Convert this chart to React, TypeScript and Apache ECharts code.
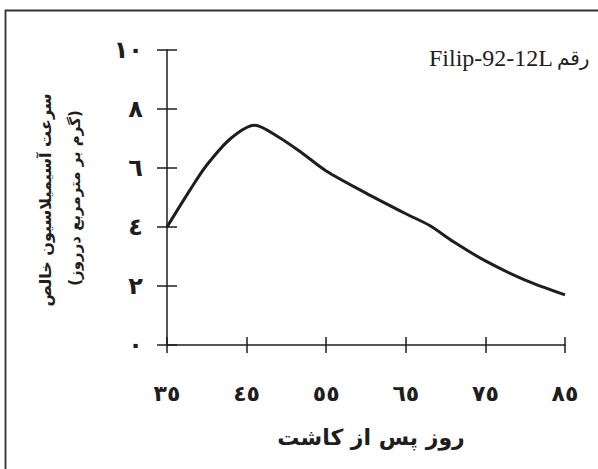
import React, { useEffect, useRef } from "react";
import * as echarts from "echarts";

// Net assimilation rate of cultivar Filip-92-12L over days after planting
const DAY0 = 35;
const days = [35, 38, 40, 43, 46, 49, 52, 55, 60, 65, 68, 71, 75, 80, 85];
const rate = [4.0, 5.3, 6.1, 7.0, 7.45, 7.05, 6.5, 5.9, 5.15, 4.45, 4.05, 3.5, 2.85, 2.2, 1.7];

const xTickLabels = ["٣٥", "٤٥", "٥٥", "٦٥", "٧٥", "٨٥"];
const yTickLabels = ["٠", "٢", "٤", "٦", "٨", "١٠"];

const titleLatin = "Filip-92-12L";
const titleFa = "رقم";
const xTitle = "روز پس از کاشت";
const yTitle1 = "سرعت آسیمیلاسیون خالص";
const yTitle2 = "(گرم بر مترمربع درروز)";

const AR_FONT = "'DejaVu Sans', sans-serif";
const INK = "#1e1e1e";

export default function App() {
  const ref = useRef<HTMLDivElement>(null);

  useEffect(() => {
    if (!ref.current) return;
    const chart = echarts.init(ref.current, undefined, { renderer: "svg" });

    const xSpan = 50;
    const xStep = 10;
    const ySpan = 10;
    const yStep = 2;

    const xBase = {
      type: "value" as const,
      min: 0,
      max: xSpan,
      interval: xStep,
      position: "bottom" as const,
      splitLine: { show: false },
    };
    const yBase = {
      type: "value" as const,
      min: 0,
      max: ySpan,
      interval: yStep,
      position: "left" as const,
      splitLine: { show: false },
    };

    chart.setOption({
      animation: false,
      grid: { left: 167, top: 50, width: 398, height: 295, containLabel: false },
      xAxis: [
        {
          ...xBase,
          axisLine: { show: true, lineStyle: { color: INK, width: 1.5 } },
          axisTick: { show: true, length: 8, lineStyle: { color: INK, width: 1.5 } },
          axisLabel: {
            show: true,
            margin: 37,
            color: INK,
            fontSize: 22,
            fontWeight: "bold",
            fontFamily: AR_FONT,
            formatter: (v: number) => xTickLabels[Math.round(v / xStep)] ?? "",
          },
        },
        {
          ...xBase,
          axisLine: { show: false },
          axisTick: { show: true, inside: true, length: 8, lineStyle: { color: INK, width: 1.5 } },
          axisLabel: { show: false },
        },
      ],
      yAxis: [
        {
          ...yBase,
          axisLine: { show: true, lineStyle: { color: INK, width: 1.5 } },
          axisTick: { show: true, length: 10, lineStyle: { color: INK, width: 1.5 } },
          axisLabel: {
            show: true,
            margin: 24,
            color: INK,
            fontSize: 24,
            fontWeight: "bold",
            fontFamily: AR_FONT,
            formatter: (v: number) => yTickLabels[Math.round(v / yStep)] ?? "",
          },
        },
        {
          ...yBase,
          axisLine: { show: false },
          axisTick: { show: true, inside: true, length: 10, lineStyle: { color: INK, width: 1.5 } },
          axisLabel: { show: false },
        },
      ],
      series: [
        {
          type: "line",
          xAxisIndex: 0,
          yAxisIndex: 0,
          data: days.map((d, i) => [d - DAY0, rate[i]]),
          smooth: 0.3,
          showSymbol: false,
          symbol: "none",
          lineStyle: { color: INK, width: 3 },
        },
      ],
      graphic: [
        {
          type: "rect",
          silent: true,
          shape: { x: 5.5, y: 10.5, width: 700, height: 600 },
          style: { fill: "none", stroke: "#333", lineWidth: 1.8 },
        },
        {
          type: "text",
          x: 553,
          y: 58,
          style: {
            text: titleLatin,
            fill: INK,
            fontSize: 24,
            fontFamily: "'Liberation Serif', serif",
            align: "right",
            verticalAlign: "middle",
          },
        },
        {
          type: "text",
          x: 557,
          y: 58,
          style: {
            text: titleFa,
            fill: INK,
            fontSize: 20,
            fontFamily: AR_FONT,
            align: "left",
            verticalAlign: "middle",
          },
        },
        {
          type: "text",
          x: 371,
          y: 437,
          style: {
            text: xTitle,
            fill: INK,
            fontSize: 22,
            fontWeight: "bold",
            fontFamily: AR_FONT,
            align: "center",
            verticalAlign: "middle",
          },
        },
        {
          type: "text",
          x: 45,
          y: 200,
          rotation: Math.PI / 2,
          style: {
            text: yTitle1,
            fill: INK,
            fontSize: 16,
            fontWeight: "bold",
            fontFamily: AR_FONT,
            align: "center",
            verticalAlign: "middle",
          },
        },
        {
          type: "text",
          x: 75,
          y: 198,
          rotation: Math.PI / 2,
          style: {
            text: yTitle2,
            fill: INK,
            fontSize: 15,
            fontWeight: "bold",
            fontFamily: AR_FONT,
            align: "center",
            verticalAlign: "middle",
          },
        },
      ],
    });

    return () => chart.dispose();
  }, []);

  return (
    <div
      ref={ref}
      style={{ position: "absolute", left: 0, top: 0, width: 598, height: 469, background: "#fff" }}
    />
  );
}
